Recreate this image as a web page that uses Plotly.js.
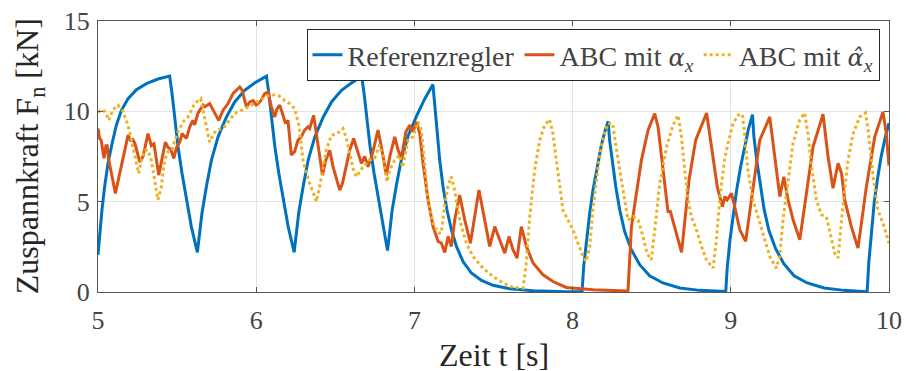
<!DOCTYPE html>
<html>
<head>
<meta charset="utf-8">
<script src="https://cdn.plot.ly/plotly-3.0.1.min.js"></script>
<style>html,body{margin:0;padding:0;background:#fff;}#plot{width:907px;height:371px;}</style>
</head>
<body>
<div id="plot"></div>
<script>
// Referenzregler
const tRef = [5.000,5.011,5.025,5.042,5.063,5.089,5.116,5.148,5.190,5.243,5.306,5.379,5.453,
  5.468,5.485,5.506,5.531,5.559,5.590,5.628,
  5.643,5.657,5.685,5.717,5.759,5.812,5.864,5.927,5.990,6.065,
  6.080,6.097,6.118,6.143,6.171,6.202,6.240,
  6.255,6.269,6.297,6.329,6.371,6.424,6.476,6.539,6.602,6.667,
  6.682,6.699,6.720,6.745,6.773,6.804,6.830,
  6.845,6.859,6.887,6.919,6.961,7.014,7.066,7.117,
  7.128,7.143,7.160,7.181,7.206,7.234,7.266,7.307,7.360,7.424,7.497,7.602,7.750,7.960,8.060,
  8.070,8.087,8.108,8.129,8.154,8.182,8.203,8.225,
  8.234,8.252,8.273,8.298,8.329,8.372,8.424,8.487,8.571,8.677,8.803,8.968,
  8.978,8.995,9.016,9.037,9.062,9.090,9.111,9.137,
  9.146,9.164,9.185,9.210,9.241,9.284,9.336,9.400,9.483,9.590,9.715,9.862,
  9.872,9.888,9.907,9.928,9.950,9.975,10.000];
const fRef = [2.06,3.26,4.54,5.83,7.12,8.22,9.23,10.06,10.70,11.20,11.53,11.79,11.95,
  10.98,9.69,8.04,6.57,5.09,3.62,2.19,
  3.26,4.36,5.83,7.30,8.59,9.69,10.52,11.16,11.57,11.95,
  10.98,9.69,8.04,6.57,5.09,3.62,2.20,
  3.30,4.40,5.86,7.32,8.60,9.69,10.52,11.16,11.57,11.94,
  10.98,9.69,8.04,6.57,5.09,3.62,2.30,
  3.40,4.50,5.95,7.40,8.65,9.75,10.70,11.48,
  10.43,8.77,7.30,5.83,4.54,3.44,2.52,1.69,1.05,0.64,0.37,0.18,0.07,0.02,0.02,
  1.41,2.89,4.36,5.65,6.93,8.13,8.86,9.45,
  8.40,7.12,5.83,4.54,3.35,2.33,1.51,0.90,0.50,0.22,0.09,0.03,
  1.41,2.89,4.36,5.65,6.93,8.20,9.00,9.82,
  8.60,7.30,5.95,4.60,3.40,2.38,1.55,0.90,0.50,0.22,0.09,0.02,
  1.60,3.30,5.00,6.30,7.48,8.50,9.35];

// ABC mit alpha_x
const tAbc = [5.000,5.010,5.020,5.038,5.050,5.058,5.066,5.110,5.190,5.205,5.220,5.234,5.264,5.285,5.316,5.337,5.354,5.384,
  5.426,5.443,5.460,5.479,5.496,5.517,5.531,5.559,5.580,5.600,5.611,5.632,5.664,5.675,5.706,5.763,5.790,5.822,5.853,5.896,
  5.911,5.938,5.959,5.980,6.000,6.015,6.030,6.054,6.075,6.096,6.117,6.132,6.149,6.170,6.186,6.201,6.222,6.243,6.264,6.285,
  6.306,6.327,6.338,6.363,6.390,6.419,6.440,6.465,6.486,6.507,6.528,6.545,6.570,6.591,6.616,6.633,6.648,6.665,6.686,6.707,
  6.735,6.770,6.791,6.823,6.844,6.876,6.897,6.918,6.946,6.970,6.991,7.013,7.034,7.055,7.086,7.118,7.150,7.171,7.192,7.213,
  7.234,7.255,7.286,7.318,7.354,7.381,7.408,7.444,7.476,7.508,7.540,7.571,7.598,7.623,7.649,7.676,7.708,7.750,7.813,7.876,
  7.960,8.130,8.340,8.350,8.372,8.393,8.435,8.477,8.519,8.540,8.571,8.603,8.618,8.645,8.689,8.736,8.778,8.847,8.883,8.915,
  8.947,8.962,8.977,9.004,9.025,9.057,9.094,9.130,9.183,9.246,9.278,9.310,9.335,9.362,9.394,9.436,9.478,9.520,9.583,9.615,
  9.646,9.678,9.700,9.720,9.762,9.804,9.857,9.910,9.962,9.983,10.000];
const fAbc = [9.05,8.50,8.40,7.40,8.10,8.10,7.40,5.46,8.68,8.40,8.45,8.20,7.20,7.50,8.77,8.10,8.20,6.47,
  8.30,8.00,7.90,7.40,8.00,8.30,8.77,8.50,9.14,9.50,9.25,9.90,10.34,10.25,10.43,9.50,10.05,10.43,10.98,11.35,
  11.17,10.24,10.52,10.60,10.36,10.45,10.60,10.98,11.07,10.24,9.69,10.15,10.34,9.80,9.33,9.50,7.58,7.77,8.40,8.60,
  8.96,9.14,9.05,9.78,8.13,6.47,7.30,7.85,6.93,6.30,5.64,6.00,7.12,7.85,8.50,8.04,7.67,7.12,7.50,6.93,
  7.67,8.96,8.04,6.47,7.48,8.59,7.85,7.40,8.86,9.23,8.86,9.42,8.77,7.12,5.10,3.62,2.80,2.70,2.19,3.07,
  2.52,4.00,5.37,4.00,2.70,4.17,5.65,4.00,2.52,3.62,2.89,2.15,3.07,2.34,1.88,3.62,2.52,1.60,0.95,0.58,
  0.25,0.13,0.05,0.05,3.62,4.91,7.30,8.96,9.88,9.14,6.75,4.45,4.45,3.62,2.19,6.20,8.40,9.91,7.67,5.80,
  4.72,5.28,5.10,5.46,4.72,3.44,2.80,5.10,8.40,9.69,7.48,5.28,6.38,5.10,3.99,2.89,5.46,8.04,9.84,7.48,
  5.74,7.12,6.57,5.10,3.62,2.43,5.83,8.59,9.97,8.77,7.00];

// ABC mit alpha_x hat
const tHat = [5.000,5.032,5.053,5.068,5.095,5.126,5.158,5.179,5.200,5.221,5.242,5.257,5.274,5.295,5.316,5.337,5.358,5.379,
  5.400,5.421,5.443,5.468,5.485,5.506,5.538,5.569,5.611,5.649,5.664,5.685,5.706,5.727,5.748,5.790,5.822,5.864,5.907,5.949,
  5.991,6.040,6.085,6.138,6.180,6.212,6.243,6.270,6.296,6.317,6.338,6.370,6.380,6.401,6.418,6.443,6.475,6.511,6.549,6.570,
  6.591,6.612,6.633,6.675,6.717,6.748,6.780,6.801,6.827,6.844,6.875,6.907,6.925,6.960,6.991,7.023,7.044,7.065,7.086,7.118,
  7.149,7.170,7.190,7.212,7.233,7.254,7.286,7.328,7.370,7.434,7.497,7.560,7.623,7.687,7.705,7.729,7.760,7.792,7.823,7.855,
  7.876,7.897,7.918,7.939,7.960,8.002,8.034,8.066,8.087,8.108,8.130,8.161,8.193,8.224,8.252,8.277,8.298,8.329,8.350,8.382,
  8.414,8.445,8.470,8.498,8.519,8.551,8.594,8.635,8.667,8.688,8.709,8.730,8.751,8.783,8.815,8.846,8.888,8.909,8.930,8.960,
  8.982,9.014,9.046,9.073,9.087,9.108,9.140,9.172,9.204,9.246,9.288,9.309,9.330,9.362,9.393,9.435,9.467,9.488,9.510,9.541,
  9.573,9.604,9.636,9.657,9.678,9.693,9.710,9.741,9.773,9.815,9.851,9.868,9.900,9.930,9.962,9.984,10.000];
const fHat = [9.97,10.10,9.85,9.50,10.10,10.34,10.00,9.50,8.86,8.00,7.30,6.57,7.30,7.85,7.85,7.30,6.20,5.10,
  5.83,7.30,7.77,7.85,8.40,8.86,9.42,9.69,10.43,10.70,10.06,9.14,8.30,8.68,8.96,9.05,9.42,9.88,10.06,10.25,
  10.43,10.70,10.90,10.90,10.60,10.43,10.15,9.23,7.30,6.57,6.00,5.28,5.00,5.83,6.57,7.85,8.68,8.77,9.05,8.50,
  7.67,6.84,6.38,6.93,7.30,7.40,8.13,7.48,6.10,6.75,7.30,7.58,6.90,8.40,8.59,9.42,8.96,6.93,5.10,3.80,
  3.26,3.26,4.72,5.83,6.38,5.65,3.99,2.70,1.97,1.32,0.86,0.50,0.26,0.22,1.41,4.17,6.75,8.40,9.23,9.55,
  8.77,7.30,5.92,4.54,4.17,3.44,2.70,1.97,1.69,2.52,4.72,6.93,8.59,9.33,9.33,8.04,6.75,5.10,3.99,4.17,
  3.99,3.07,2.15,1.78,3.62,6.00,8.04,9.23,9.78,8.58,6.75,5.10,4.17,3.44,2.52,1.78,1.32,2.89,5.10,7.30,
  8.22,9.33,9.79,9.84,8.77,6.75,5.10,4.17,3.26,1.97,1.32,1.97,3.99,6.20,8.22,9.50,9.91,8.77,6.93,5.10,
  4.27,4.17,2.89,2.15,1.88,3.26,4.91,7.30,8.77,9.69,9.91,8.96,6.38,4.54,3.81,3.16,2.70];

const xTicks = [5,6,7,8,9,10];
const yTicks = [0,5,10,15];
const names = ['Referenzregler',
  'ABC mit <span style="font-family:DejaVu Serif;font-style:italic;font-size:24px">α</span><sub><i>x</i></sub>',
  'ABC mit <span style="font-family:DejaVu Serif;font-style:italic;font-size:24px">α̂</span><sub><i>x</i></sub>'];
const xTitle = 'Zeit t [s]';
const yTitle = 'Zuspannkraft F<sub>n</sub> [kN]';

const FONT = 'Liberation Serif, DejaVu Serif';
const data = [
  {x: tRef, y: fRef, mode: 'lines', name: names[0], line: {color: '#0072BD', width: 3}},
  {x: tAbc, y: fAbc, mode: 'lines', name: names[1], line: {color: '#D95319', width: 3}},
  {x: tHat, y: fHat, mode: 'lines', name: names[2], line: {color: '#EDB120', width: 3, dash: 'dot'}}
];
const layout = {
  width: 907, height: 371,
  margin: {l: 98, r: 18, t: 21, b: 79},
  showlegend: true,
  legend: {
    orientation: 'h', x: 0.988, xanchor: 'right', y: 0.97, yanchor: 'top',
    bgcolor: '#ffffff', bordercolor: '#262626', borderwidth: 1,
    font: {family: FONT, size: 28}
  },
  xaxis: {
    showline: true, linecolor: '#555', linewidth: 1, mirror: 'ticks',
    ticks: 'inside', ticklen: 5, tickcolor: '#555', tickwidth: 1,
    showgrid: true, gridcolor: '#e3e3e3', gridwidth: 1, zeroline: false,
    tickfont: {family: FONT, size: 26}, ticklabelstandoff: 5,
    range: [5, 10], tickvals: xTicks
  },
  yaxis: {
    showline: true, linecolor: '#555', linewidth: 1, mirror: 'ticks',
    ticks: 'inside', ticklen: 5, tickcolor: '#555', tickwidth: 1,
    showgrid: true, gridcolor: '#e3e3e3', gridwidth: 1, zeroline: false,
    tickfont: {family: FONT, size: 26}, ticklabelstandoff: 2,
    range: [0, 15], tickvals: yTicks
  },
  annotations: [
    {xref: 'paper', yref: 'paper', x: 0.5, y: -0.234, xanchor: 'center', yanchor: 'middle',
     text: xTitle, showarrow: false, font: {family: FONT, size: 32, color: '#262626'}},
    {xref: 'paper', yref: 'paper', x: -0.0863, y: 0.5, xanchor: 'center', yanchor: 'middle',
     text: yTitle, textangle: -90, showarrow: false, font: {family: FONT, size: 32, color: '#262626'}}
  ]
};
Plotly.newPlot('plot', data, layout, {displayModeBar: false, staticPlot: true});
</script>
</body>
</html>
